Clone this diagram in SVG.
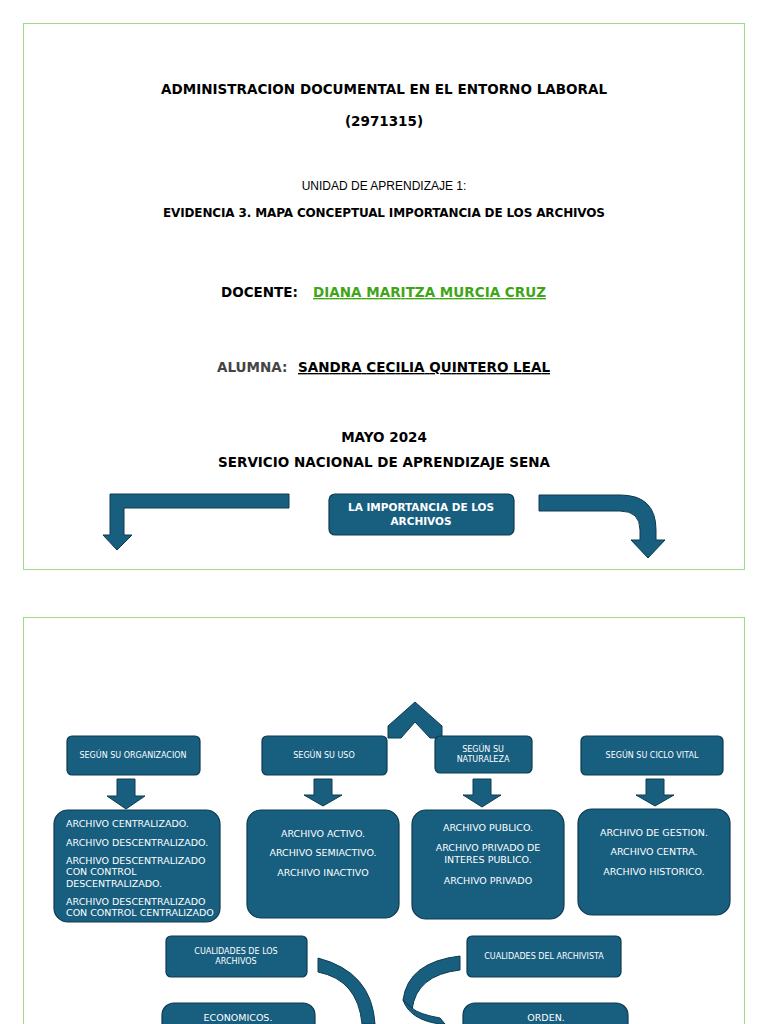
<svg xmlns="http://www.w3.org/2000/svg" width="768" height="1024" viewBox="0 0 768 1024">
<style>
.pg{fill:#fff;stroke:#9fd98a;stroke-width:1}
.b{fill:#175e7f;stroke:#0e3a50;stroke-width:1.2}
.a{fill:#175e7f;stroke:#0e3a50;stroke-width:1}
.t{font-family:"DejaVu Sans",sans-serif;font-size:13.5px;font-weight:bold;fill:#000;text-anchor:middle}
.w{font-family:"DejaVu Sans",sans-serif;fill:#fff;text-anchor:middle}
.s{font-size:8px}
.m{font-size:9.5px}
</style>
<defs><clipPath id="c1"><rect x="54" y="810" width="166" height="107"/></clipPath></defs>
<rect width="768" height="1024" fill="#fff"/>
<rect class="pg" x="23.5" y="23.5" width="721" height="546"/>
<rect class="pg" x="23.5" y="617.5" width="721" height="420"/>
<g id="title">
<text class="t" x="384" y="94" textLength="446">ADMINISTRACION DOCUMENTAL EN EL ENTORNO LABORAL</text>
<text class="t" x="384" y="126">(2971315)</text>
<text x="384" y="190" style="font-family:'Liberation Sans',sans-serif;font-size:12px;text-anchor:middle">UNIDAD DE APRENDIZAJE 1:</text>
<text class="t" x="384" y="217" style="font-size:12px" textLength="442">EVIDENCIA 3.  MAPA CONCEPTUAL IMPORTANCIA DE LOS ARCHIVOS</text>
<text class="t" x="221" y="297" style="text-anchor:start">DOCENTE:</text>
<text class="t" x="313" y="297" style="text-anchor:start;fill:#3fa516;text-decoration:underline" textLength="233">DIANA MARITZA MURCIA CRUZ</text>
<text class="t" x="217" y="372" style="text-anchor:start;fill:#444">ALUMNA:</text>
<text class="t" x="298" y="372" style="text-anchor:start;text-decoration:underline" textLength="252">SANDRA CECILIA QUINTERO LEAL</text>
<text class="t" x="384" y="442">MAYO 2024</text>
<text class="t" x="384" y="467" textLength="332">SERVICIO NACIONAL DE APRENDIZAJE SENA</text>
</g>
<g id="connectors">
<path class="a" d="M289,494 V508 H124 V535 H132 L117,550 L103,535 H110 V494 Z"/>
<path class="a" d="M539,495 H620 Q656,495 656,530 V540 H665 L648,558 L631,540 H640 V530 Q640,511 620,511 H539 Z"/>
<path class="a" d="M388,738 L388,726 L415,702 L442,726 L442,738 L430,738 L415,722 L401,738 Z"/>
<path class="a" d="M117,779 H135 V796 H145 L126,809 L107,796 H117 Z"/>
<path class="a" d="M314,779 H332 V795 H342 L323,806 L304,795 H314 Z"/>
<path class="a" d="M473,779 H491 V795 H501 L482,807 L463,795 H473 Z"/>
<path class="a" d="M646,779 H664 V795 H674 L655,806 L636,795 H646 Z"/>
<path class="a" d="M318,958 Q372,972 375,1024 L362,1024 Q358,980 318,972 Z"/>
<path class="a" d="M460,956 Q408,962 403,1000 L412,1010 Q416,975 460,970 Z"/>
<path class="a" d="M403,1000 Q410,1020 440,1024 L445,1024 L440,1018 Q418,1014 412,1008 Z"/>
</g>
<g id="n-importancia"><rect class="b" x="329" y="494" width="185" height="41" rx="6"/>
<text class="w" x="421" y="511" style="font-size:10.5px;font-weight:bold">LA IMPORTANCIA DE LOS</text>
<text class="w" x="421" y="525" style="font-size:10.5px;font-weight:bold">ARCHIVOS</text></g>
<g id="n-org"><rect class="b" x="67" y="736" width="133" height="39" rx="5"/><text class="w s" x="133" y="758">SEGÚN SU ORGANIZACION</text></g>
<g id="n-uso"><rect class="b" x="262" y="736" width="125" height="39" rx="5"/><text class="w s" x="324" y="758">SEGÚN SU USO</text></g>
<g id="n-nat"><rect class="b" x="435" y="736" width="97" height="37" rx="5"/><text class="w s" x="483" y="752">SEGÚN SU</text><text class="w s" x="483" y="762">NATURALEZA</text></g>
<g id="n-ciclo"><rect class="b" x="581" y="736" width="142" height="39" rx="5"/><text class="w s" x="652" y="758">SEGÚN SU CICLO VITAL</text></g>
<g id="n-org-list"><rect class="b" x="54" y="810" width="166" height="112" rx="14"/>
<g clip-path="url(#c1)"><text class="w m" x="66" y="827" style="text-anchor:start">ARCHIVO CENTRALIZADO.</text>
<text class="w m" x="66" y="846" style="text-anchor:start">ARCHIVO DESCENTRALIZADO.</text>
<text class="w m" x="66" y="864" style="text-anchor:start">ARCHIVO DESCENTRALIZADO</text>
<text class="w m" x="66" y="875" style="text-anchor:start">CON CONTROL</text>
<text class="w m" x="66" y="887" style="text-anchor:start">DESCENTRALIZADO.</text>
<text class="w m" x="66" y="905" style="text-anchor:start">ARCHIVO DESCENTRALIZADO</text>
<text class="w m" x="66" y="916" style="text-anchor:start">CON CONTROL CENTRALIZADO</text></g></g>
<g id="n-uso-list"><rect class="b" x="247" y="810" width="152" height="108" rx="14"/>
<text class="w m" x="323" y="837">ARCHIVO ACTIVO.</text><text class="w m" x="323" y="856">ARCHIVO SEMIACTIVO.</text><text class="w m" x="323" y="876">ARCHIVO INACTIVO</text></g>
<g id="n-nat-list"><rect class="b" x="412" y="810" width="152" height="109" rx="14"/>
<text class="w m" x="488" y="831">ARCHIVO PUBLICO.</text><text class="w m" x="488" y="851">ARCHIVO PRIVADO DE</text><text class="w m" x="488" y="863">INTERES PUBLICO.</text><text class="w m" x="488" y="884">ARCHIVO PRIVADO</text></g>
<g id="n-ciclo-list"><rect class="b" x="578" y="809" width="152" height="106" rx="14"/>
<text class="w m" x="654" y="836">ARCHIVO DE GESTION.</text><text class="w m" x="654" y="855">ARCHIVO CENTRA.</text><text class="w m" x="654" y="875">ARCHIVO HISTORICO.</text></g>
<g id="n-cual-arch"><rect class="b" x="166" y="936" width="141" height="41" rx="5"/><text class="w s" x="236" y="954">CUALIDADES DE LOS</text><text class="w s" x="236" y="964">ARCHIVOS</text></g>
<g id="n-cual-archivista"><rect class="b" x="467" y="936" width="154" height="41" rx="5"/><text class="w s" x="544" y="959">CUALIDADES DEL ARCHIVISTA</text></g>
<g id="n-eco"><rect class="b" x="162" y="1003" width="153" height="40" rx="12"/><text class="w m" x="238" y="1021">ECONOMICOS.</text></g>
<g id="n-orden"><rect class="b" x="463" y="1003" width="165" height="40" rx="12"/><text class="w m" x="546" y="1021">ORDEN.</text></g>
</svg>
